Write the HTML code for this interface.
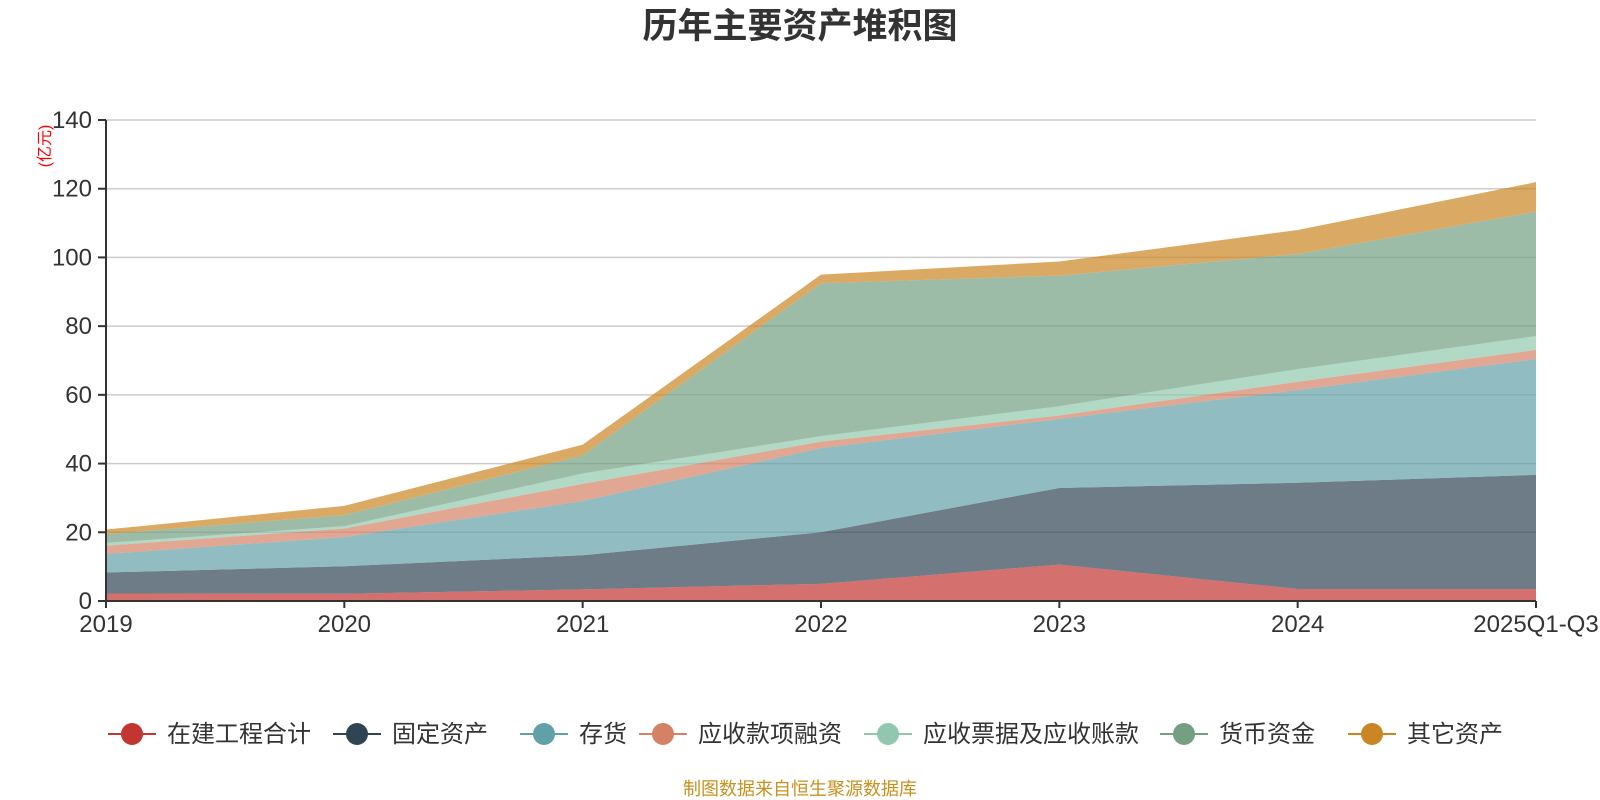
<!DOCTYPE html>
<html><head><meta charset="utf-8"><style>
body{margin:0;background:#fff}
svg{display:block;font-family:"Liberation Sans","Noto Sans CJK SC",sans-serif}
</style></head><body>
<svg id="c" width="1600" height="800">
<text x="800" y="38" text-anchor="middle" font-size="35" font-weight="bold" fill="#333">历年主要资产堆积图</text>
<text transform="translate(50,146) rotate(-90)" text-anchor="middle" font-size="16" fill="red">(亿元)</text>
<g id="grid"></g><g id="areas"></g><g id="axes"></g><g id="legend"></g>
<text x="800" y="795" text-anchor="middle" font-size="18" fill="#c8901e">制图数据来自恒生聚源数据库</text>
</svg>
<script>
const categories=["2019","2020","2021","2022","2023","2024","2025Q1-Q3"];
const seriesNames=["在建工程合计","固定资产","存货","应收款项融资","应收票据及应收账款","货币资金","其它资产"];
const s0=[2.2,2.1,3.4,5,10.6,3.5,3.5];
const s1=[6.1,8,9.9,15,22.3,30.9,33.2];
const s2=[5.4,8.5,15.8,24.5,20.1,27,33.7];
const s3=[2.4,2.5,5,1.9,1,2.4,2.7];
const s4=[0.8,0.7,3,1.6,2.7,3.7,4];
const s5=[2.6,3.2,5.3,44.5,38,33.5,36.2];
const s6=[1.3,2.7,3.1,2.5,4.1,7,8.6];
const yTicks=[0,20,40,60,80,100,120,140];
const series=[s0,s1,s2,s3,s4,s5,s6];
const colors=["#c23531","#2f4554","#61a0a8","#d48265","#91c7ae","#749f83","#ca8622"];
const L=106,R=1536,T=120,B=601,NS="http://www.w3.org/2000/svg";
const x=i=>L+(R-L)*i/(categories.length-1);
const y=v=>B-(B-T)*v/140;
function mk(t,a,p){const e=document.createElementNS(NS,t);for(const k in a)e.setAttribute(k,a[k]);p.appendChild(e);return e;}
const grid=document.getElementById('grid'),axes=document.getElementById('axes'),areas=document.getElementById('areas'),leg=document.getElementById('legend');
yTicks.forEach(v=>{
 if(v>0){const g=mk('line',{x1:L,x2:R,y1:y(v),y2:y(v),stroke:'#ccc','stroke-width':1.5},grid);
 
 }
 const t=mk('line',{x1:L-8,x2:L,y1:y(v),y2:y(v),stroke:'#333','stroke-width':2},axes);
 
 
 const l=mk('text',{x:L-14,y:y(v)+8,'text-anchor':'end','font-size':24,fill:'#333'},axes);l.textContent=v;
 
 
});
let base=categories.map(()=>0);
series.forEach((s,k)=>{
 const top=base.map((b,i)=>b+s[i]);
 let d='M'+top.map((v,i)=>x(i)+','+y(v)).join('L');
 for(let i=categories.length-1;i>=0;i--)d+='L'+x(i)+','+y(base[i]);
 const p=mk('path',{d:d+'Z',fill:colors[k],'fill-opacity':0.7},areas);
 
 
 base=top;
});
const ax=mk('line',{x1:L,x2:R,y1:B,y2:B,stroke:'#333','stroke-width':2},axes);


const ay=mk('line',{x1:L,x2:L,y1:T,y2:B,stroke:'#333','stroke-width':2},axes);


categories.forEach((c,i)=>{
 const t=mk('line',{x1:x(i),x2:x(i),y1:B,y2:B+7,stroke:'#333','stroke-width':2},axes);
 
 
 const l=mk('text',{x:x(i),y:B+31,'text-anchor':'middle','font-size':24,fill:'#333'},axes);l.textContent=c;
 
 
});
const lx=[132,357,544,663,888,1184,1372];
seriesNames.forEach((n,k)=>{
 const g=mk('g',{},leg);
 
 
 mk('line',{x1:lx[k]-24,x2:lx[k]+24,y1:734,y2:734,stroke:colors[k],'stroke-width':2},g);
 mk('circle',{cx:lx[k],cy:734,r:11,fill:colors[k]},g);
 const t=mk('text',{x:lx[k]+35,y:742,'font-size':24,fill:'#333'},g);t.textContent=n;
});
</script>
</body></html>
